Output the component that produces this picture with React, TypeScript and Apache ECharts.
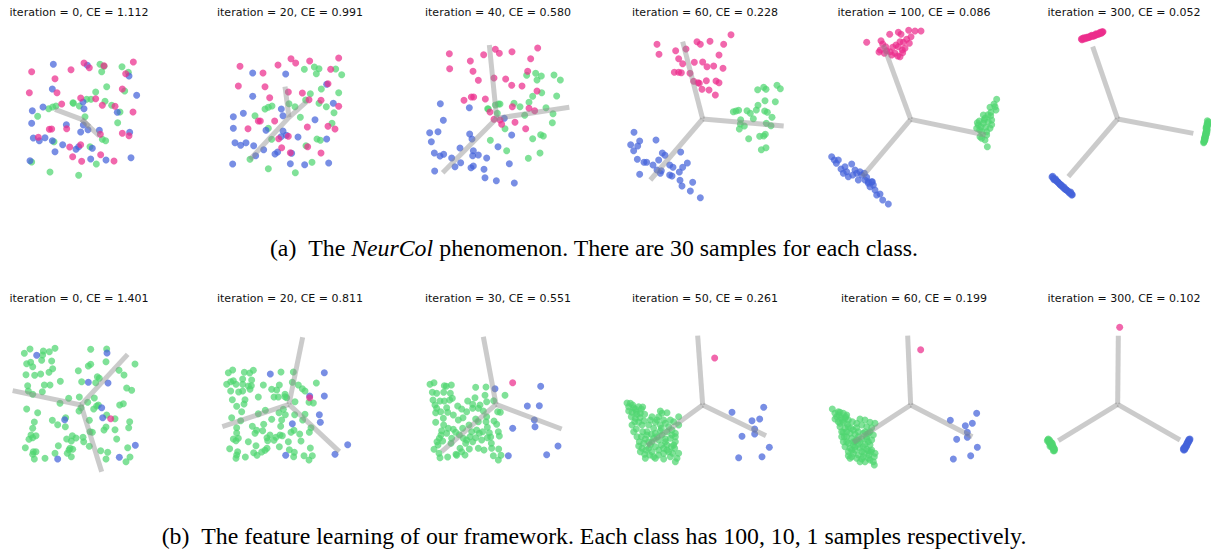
import React, { useEffect, useRef } from 'react';
import * as echarts from 'echarts';

type Pt = [number, number];

// ---- titles / captions ----
const titlesTop = [
  'iteration = 0, CE = 1.112',
  'iteration = 20, CE = 0.991',
  'iteration = 40, CE = 0.580',
  'iteration = 60, CE = 0.228',
  'iteration = 100, CE = 0.086',
  'iteration = 300, CE = 0.052',
];
const titlesBottom = [
  'iteration = 0, CE = 1.401',
  'iteration = 20, CE = 0.811',
  'iteration = 30, CE = 0.551',
  'iteration = 50, CE = 0.261',
  'iteration = 60, CE = 0.199',
  'iteration = 300, CE = 0.102',
];
const captionA = '(a)\u00a0\u00a0The {i|NeurCol} phenomenon. There are 30 samples for each class.';
const captionB = '(b)\u00a0\u00a0The feature learning of our framework. Each class has 100, 10, 1 samples respectively.';

// ---- panel 1 ----
const p1Hub: Pt = [245, 358];
const p1Arms: Pt[] = [[165, 328], [298, 408], [268, 380]];
const p1Pink: Pt[] = [[95,215],[213,209],[165,236],[252,189],[268,203],[312,197],[400,186],[377,221],[88,278],[171,278],[367,267],[242,294],[287,296],[307,316],[345,319],[399,336],[185,312],[148,388],[155,387],[200,386],[115,412],[367,400],[387,407],[301,403],[209,441],[242,434],[218,470],[245,484],[302,464],[342,483]];
const p1Blue: Pt[] = [[160,193],[262,196],[387,228],[157,267],[410,286],[249,306],[252,326],[97,332],[129,321],[352,337],[95,370],[199,374],[250,375],[264,389],[242,396],[298,391],[389,397],[100,414],[118,422],[135,413],[157,422],[188,434],[165,455],[228,448],[236,440],[277,445],[272,477],[318,480],[393,473],[90,482]];
const p1Green: Pt[] = [[300,193],[312,199],[366,200],[385,217],[305,215],[374,273],[320,260],[287,276],[273,298],[315,304],[335,316],[360,336],[219,308],[238,318],[146,326],[158,321],[168,318],[113,349],[255,350],[353,368],[162,425],[270,440],[307,418],[317,422],[289,492],[95,486],[150,516],[236,526],[260,298],[220,310]];

// ---- panel 2 ----
const p2Hub: Pt = [252, 352];
const p2Arms: Pt[] = [[240, 260], [135, 478], [305, 305]];
const p2Pink: Pt[] = [[105,199],[174,219],[219,195],[258,176],[272,189],[314,183],[401,174],[377,208],[100,258],[180,260],[250,276],[292,279],[369,251],[194,293],[312,299],[348,301],[401,319],[160,363],[166,363],[209,363],[129,386],[307,381],[369,379],[390,387],[221,416],[250,409],[230,443],[308,440],[256,458],[348,459]];
const p2Blue: Pt[] = [[143,219],[242,222],[365,253],[143,289],[385,310],[229,327],[234,347],[85,350],[115,340],[330,359],[85,385],[183,391],[234,393],[244,406],[228,410],[279,411],[365,417],[90,428],[107,436],[123,428],[146,437],[176,449],[152,467],[210,462],[218,456],[260,460],[256,491],[299,494],[371,489],[83,492]];
const p2Green: Pt[] = [[298,208],[328,201],[342,206],[334,221],[392,207],[410,224],[349,267],[316,281],[401,278],[302,300],[342,310],[364,320],[387,338],[252,311],[270,320],[180,327],[190,322],[201,318],[150,347],[286,352],[381,370],[190,385],[200,418],[303,437],[336,417],[346,421],[321,487],[190,506],[271,518],[135,478]];

// ---- panel 3 ----
const p3Hub: Pt = [260, 355];
const p3Arms: Pt[] = [[238, 135], [478, 322], [98, 518]];
const p3Pink: Pt[] = [[118,161],[119,206],[181,183],[221,164],[256,148],[268,160],[306,155],[383,144],[362,176],[189,214],[205,241],[252,234],[287,237],[305,256],[336,258],[353,214],[381,273],[162,301],[184,291],[191,291],[226,297],[240,336],[307,320],[357,325],[374,332],[252,358],[275,373],[315,367],[347,386],[270,360]];
const p3Blue: Pt[] = [[91,311],[178,323],[100,361],[59,398],[84,395],[64,425],[179,402],[186,417],[150,444],[73,459],[101,463],[90,468],[125,474],[190,452],[188,467],[205,465],[230,474],[152,488],[135,500],[183,503],[190,498],[222,508],[74,513],[225,533],[259,542],[313,549],[264,440],[298,491],[305,405],[283,355]];
const p3Green: Pt[] = [[350,226],[377,220],[381,240],[394,228],[432,225],[451,240],[395,278],[368,289],[357,307],[440,288],[312,310],[330,320],[256,315],[270,312],[235,327],[344,346],[408,323],[429,341],[427,368],[392,404],[400,408],[368,416],[285,386],[241,421],[290,452],[355,475],[390,459],[233,326],[262,340],[265,312]];

// ---- panel 4 ----
const p4Hub: Pt = [272, 357];
const p4Arms: Pt[] = [[212, 125], [515, 378], [115, 540]];
const p4Pink: Pt[] = [[135,133],[141,163],[191,152],[222,147],[255,125],[265,133],[294,124],[335,133],[357,104],[321,165],[200,176],[212,191],[247,187],[272,186],[285,200],[305,198],[333,205],[187,217],[200,217],[208,218],[234,220],[245,244],[258,248],[283,242],[312,243],[321,248],[270,268],[291,270],[310,285],[262,250]];
const p4Blue: Pt[] = [[66,397],[83,423],[56,434],[77,438],[65,452],[132,420],[151,459],[159,466],[76,478],[96,487],[104,487],[123,495],[140,480],[206,456],[226,489],[173,495],[183,502],[212,502],[202,516],[135,510],[148,512],[83,523],[173,525],[180,528],[204,541],[242,547],[210,558],[235,573],[265,593],[145,520]];
const p4Green: Pt[] = [[437,269],[455,262],[462,268],[495,256],[505,266],[459,302],[490,305],[438,316],[364,335],[372,333],[380,331],[405,332],[415,340],[433,330],[458,333],[466,337],[386,359],[424,356],[480,352],[463,370],[385,372],[397,378],[477,377],[382,387],[443,409],[460,403],[410,416],[448,449],[462,443],[455,408]];

// ---- panel 5 ----
const p5Hub: Pt = [287, 358];
const p5Arms: Pt[] = [[205, 135], [512, 405], [142, 530]];
const p5Pink: Pt[] = [[155,127],[198,122],[224,103],[250,97],[258,103],[281,91],[300,93],[318,93],[288,110],[265,127],[283,130],[243,135],[250,140],[262,150],[240,160],[225,155],[212,140],[196,150],[192,156],[215,152],[230,165],[248,168],[255,170],[263,158],[270,145],[203,132],[233,142],[255,125],[275,118],[208,160]];
const p5Blue: Pt[] = [[50,470],[58,480],[70,480],[64,490],[78,507],[95,515],[110,492],[100,530],[120,510],[125,520],[130,540],[140,525],[150,540],[160,550],[172,545],[175,555],[165,560],[160,545],[180,570],[185,585],[195,582],[203,600],[220,612],[85,520],[113,525],[135,515],[148,520],[170,545],[90,500],[155,532]];
const p5Green: Pt[] = [[545,298],[537,312],[525,322],[543,330],[519,344],[527,347],[510,355],[530,360],[493,363],[505,370],[490,375],[485,385],[498,380],[512,382],[525,385],[500,395],[495,410],[515,405],[510,420],[517,440],[528,337],[520,365],[505,345],[515,395],[487,368],[530,374],[500,415],[540,320],[494,390],[508,360]];

// ---- panel 6 ----
const p6Hub: Pt = [293, 357];
const p6Arms: Pt[] = [[218, 140], [520, 400], [145, 530]];
const p6Pink: Pt[] = [[184,117],[188,115],[186,119],[192,113],[195,116],[199,112],[203,113],[206,110],[210,111],[213,108],[217,109],[220,107],[223,105],[226,106],[229,104],[232,102],[235,103],[238,101],[241,99],[244,100],[247,97],[249,95],[190,117],[200,114],[215,106],[228,101],[240,97],[208,112],[222,108],[246,95]];
const p6Blue: Pt[] = [[96,531],[100,535],[104,538],[108,541],[112,545],[116,549],[119,552],[122,556],[126,559],[130,563],[134,566],[138,569],[142,572],[146,575],[150,578],[154,581],[157,584],[98,529],[106,536],[114,546],[124,555],[132,561],[140,570],[148,579],[155,585],[102,539],[110,543],[120,553],[136,568],[152,576]];
const p6Green: Pt[] = [[562,362],[564,368],[561,372],[563,377],[560,382],[562,388],[559,392],[558,397],[560,402],[556,406],[557,411],[554,415],[555,420],[552,424],[551,428],[565,365],[558,385],[557,400],[553,418],[561,395],[556,409],[563,372],[559,380],[554,412],[552,426],[560,390],[557,404],[555,416],[562,376],[553,422]];

// ---- panel 7 ----
const p7Hub: Pt = [243, 360];
const p7Arms: Pt[] = [[38, 317], [383, 208], [305, 560]];
const p7Pink: Pt[] = [[332, 401]];
const p7Blue: Pt[] = [[110,211],[321,204],[265,292],[324,294],[305,368],[308,398],[194,404],[406,481],[173,522],[358,517]];
const p7Green: Pt[] = [[73,205],[90,192],[130,198],[148,200],[165,190],[80,236],[92,232],[98,245],[125,226],[155,228],[78,269],[104,271],[122,267],[147,262],[158,251],[272,193],[320,192],[318,230],[265,243],[272,238],[235,257],[405,237],[357,256],[372,270],[83,302],[133,300],[127,320],[98,328],[181,289],[245,290],[292,275],[298,280],[287,293],[380,309],[395,316],[206,340],[180,355],[263,352],[283,339],[290,363],[359,360],[370,356],[80,372],[113,383],[237,378],[320,390],[345,401],[157,406],[173,419],[197,398],[196,425],[103,411],[268,406],[389,410],[386,428],[98,430],[93,450],[87,463],[108,452],[98,458],[277,442],[312,435],[318,426],[345,434],[217,452],[228,459],[214,468],[249,457],[251,470],[350,462],[76,488],[175,482],[218,493],[207,495],[268,484],[383,488],[100,500],[98,508],[108,500],[103,522],[135,520],[165,505],[202,505],[214,515],[302,497],[323,502],[318,522],[390,516],[378,530],[243,368],[238,336],[281,372],[295,360],[210,490],[128,210],[150,300],[270,440],[200,462],[85,318]];

// ---- panel 8 ----
const p8Hub: Pt = [252, 358];
const p8Arms: Pt[] = [[293, 157], [52, 425], [403, 500]];
const p8Pink: Pt[] = [[314, 338]];
const p8Blue: Pt[] = [[196,267],[358,263],[358,333],[314,333],[343,389],[346,412],[262,416],[428,479],[242,511],[390,508]];
const p8Green: Pt[] = [[70,263],[83,255],[118,262],[134,264],[145,256],[228,261],[265,261],[77,290],[85,287],[93,298],[113,282],[140,285],[139,302],[262,292],[334,294],[77,318],[101,321],[113,318],[135,313],[223,300],[200,313],[292,311],[300,318],[160,336],[82,344],[95,364],[120,344],[117,357],[207,336],[220,336],[240,328],[245,338],[312,352],[325,354],[181,376],[160,386],[80,398],[107,407],[222,383],[241,389],[235,373],[269,389],[300,388],[293,405],[200,403],[142,424],[155,436],[173,437],[176,418],[95,428],[95,444],[85,462],[100,460],[93,467],[227,424],[258,442],[267,436],[284,447],[313,442],[318,428],[186,458],[188,467],[207,466],[213,457],[225,450],[232,452],[288,468],[153,482],[74,491],[98,500],[95,510],[93,520],[121,516],[146,503],[156,511],[170,501],[180,496],[186,490],[223,485],[253,494],[266,515],[268,502],[297,512],[312,525],[322,512],[316,489],[113,298],[130,303],[240,335],[65,298],[195,450],[110,380],[270,350],[230,405],[150,445],[280,300],[130,470],[215,315],[175,300],[250,470]];

// ---- panel 9 ----
const p9Hub: Pt = [258, 358];
const p9Arms: Pt[] = [[220, 155], [455, 432], [95, 500]];
const p9Pink: Pt[] = [[308, 293]];
const p9Blue: Pt[] = [[255,311],[392,304],[352,363],[388,362],[373,405],[375,425],[308,430],[444,483],[410,509],[295,512]];
const p9Green: Pt[] = [[60,298],[72,293],[67,322],[80,325],[103,302],[109,304],[124,300],[101,322],[121,325],[69,345],[90,348],[103,348],[119,345],[127,340],[80,370],[77,383],[92,380],[110,368],[113,382],[143,363],[173,348],[188,358],[195,338],[197,307],[228,306],[225,331],[251,347],[285,331],[210,360],[188,370],[205,370],[220,378],[263,380],[271,382],[159,398],[145,405],[177,420],[197,402],[205,410],[228,410],[232,427],[252,408],[77,412],[101,420],[95,437],[93,450],[88,460],[81,470],[98,468],[84,480],[72,493],[87,505],[90,518],[113,516],[138,508],[130,433],[137,442],[148,449],[158,430],[170,465],[167,475],[188,470],[178,492],[165,510],[155,500],[197,458],[200,435],[218,440],[238,443],[242,456],[265,440],[268,453],[244,475],[266,492],[222,495],[250,512],[273,511],[265,525],[232,458],[123,475],[150,490],[140,511],[110,445],[180,455],[208,445],[260,418],[230,395],[170,380],[155,372],[130,390],[100,400],[245,490],[205,490],[185,440],[215,465],[125,460],[160,460],[75,360],[115,430],[230,350]];

// ---- panel 10 ----
const p10Hub: Pt = [272, 360];
const p10Arms: Pt[] = [[257, 152], [462, 452], [105, 482]];
const p10Pink: Pt[] = [[308, 219]];
const p10Blue: Pt[] = [[360,382],[455,367],[420,407],[443,402],[428,432],[428,447],[390,454],[472,487],[450,515],[380,518]];
const p10Green: Pt[] = [[45,354],[55,355],[65,368],[80,365],[92,366],[50,378],[60,382],[72,380],[85,385],[98,388],[58,395],[70,400],[84,398],[96,407],[68,410],[80,412],[115,405],[145,378],[165,383],[140,395],[155,405],[160,415],[175,405],[185,410],[200,395],[73,432],[92,440],[110,420],[125,430],[130,445],[148,430],[165,440],[180,435],[190,445],[150,450],[118,448],[88,455],[100,462],[110,470],[125,460],[140,465],[160,462],[175,460],[190,470],[190,455],[80,483],[90,490],[102,495],[115,480],[130,485],[148,480],[165,480],[178,485],[188,490],[85,500],[98,508],[113,510],[125,515],[140,510],[155,505],[170,500],[182,505],[195,520],[190,530],[130,520],[120,500],[100,520],[155,522],[175,515],[95,475],[120,470],[105,440],[60,420],[50,365],[75,388],[90,420],[135,405],[170,425],[200,420],[82,470],[140,495],[165,495],[180,450],[145,438],[160,470],[110,490],[75,455],[65,440],[200,505],[150,385],[130,412],[120,395],[185,480],[105,450],[135,455],[155,490],[70,372],[88,372],[62,360],[145,420]];

// ---- panel 11 ----
const p11Hub: Pt = [287, 360];
const p11Arms: Pt[] = [[278, 152], [472, 455], [115, 472]];
const p11Pink: Pt[] = [[317, 194]];
const p11Blue: Pt[] = [[406,406],[485,385],[472,415],[451,422],[457,442],[457,457],[425,463],[487,487],[467,512],[415,522]];
const p11Green: Pt[] = [[52,372],[60,385],[75,382],[85,385],[95,390],[65,395],[78,398],[90,400],[100,405],[70,410],[85,412],[97,418],[75,425],[90,430],[80,440],[135,402],[150,405],[165,412],[180,415],[125,415],[140,420],[155,425],[170,428],[115,435],[130,440],[145,445],[160,445],[175,450],[95,455],[110,460],[125,465],[140,462],[155,462],[170,465],[85,470],[100,475],[115,480],[130,478],[150,478],[165,480],[90,485],[105,490],[120,495],[135,490],[155,493],[170,495],[100,500],[115,505],[130,510],[148,505],[162,510],[178,515],[110,515],[125,520],[140,522],[160,520],[175,530],[178,540],[150,530],[85,442],[95,440],[120,448],[165,440],[100,425],[112,410],[60,402],[88,455],[105,445],[130,455],[145,485],[160,498],[120,470],[140,500],[75,415],[95,470],[110,495],[135,530],[168,500],[180,505],[108,430],[150,440],[125,428],[80,455],[72,390],[92,395],[160,470],[145,515],[115,470],[135,470],[105,520],[165,525],[70,380],[82,405],[155,455],[120,485],[100,512]];

// ---- panel 12 ----
const p12Hub: Pt = [293, 358];
const p12Arms: Pt[] = [[295, 152], [115, 467], [480, 465]];
const p12Pink: Pt[] = [[299, 127]];
const p12Blue: Pt[] = [[507,463],[505,467],[503,471],[501,475],[499,479],[497,483],[495,487],[493,491],[491,495],[509,466],[504,474],[500,483],[496,490],[490,492],[506,470],[502,478],[498,486],[494,494],[510,462],[492,488]];
const p12Green: Pt[] = [[84,464],[86,467],[88,470],[90,474],[92,477],[94,480],[96,484],[98,487],[100,490],[102,494],[103,497],[85,462],[89,466],[93,472],[97,478],[99,483],[101,488],[87,473],[91,479],[95,487],[82,467],[90,484],[104,492],[96,474],[100,497]];

const panelData = [
  { hub: p1Hub, arms: p1Arms, pink: p1Pink, blue: p1Blue, green: p1Green },
  { hub: p2Hub, arms: p2Arms, pink: p2Pink, blue: p2Blue, green: p2Green },
  { hub: p3Hub, arms: p3Arms, pink: p3Pink, blue: p3Blue, green: p3Green },
  { hub: p4Hub, arms: p4Arms, pink: p4Pink, blue: p4Blue, green: p4Green },
  { hub: p5Hub, arms: p5Arms, pink: p5Pink, blue: p5Blue, green: p5Green },
  { hub: p6Hub, arms: p6Arms, pink: p6Pink, blue: p6Blue, green: p6Green },
  { hub: p7Hub, arms: p7Arms, pink: p7Pink, blue: p7Blue, green: p7Green },
  { hub: p8Hub, arms: p8Arms, pink: p8Pink, blue: p8Blue, green: p8Green },
  { hub: p9Hub, arms: p9Arms, pink: p9Pink, blue: p9Blue, green: p9Green },
  { hub: p10Hub, arms: p10Arms, pink: p10Pink, blue: p10Blue, green: p10Green },
  { hub: p11Hub, arms: p11Arms, pink: p11Pink, blue: p11Blue, green: p11Green },
  { hub: p12Hub, arms: p12Arms, pink: p12Pink, blue: p12Blue, green: p12Green },
];

// ---- layout (positions, not data) ----
const colX = [0, 205, 410, 612, 815, 1020];
const colW = [200, 200, 200, 200, 200, 191];
const rowY = [0, 285];
const PANEL_H = 215;
const titleCX = [79, 290, 498, 705, 914, 1124];
const titleY = [12, 298];

const PINK = '#ec2d8c';
const GREEN = '#4fd670';
const BLUE = '#4462da';

export default function App() {
  const ref = useRef<HTMLDivElement>(null);
  useEffect(() => {
    if (!ref.current) return;
    const chart = echarts.init(ref.current, null, { renderer: 'svg' });
    const grid: any[] = [];
    const xAxis: any[] = [];
    const yAxis: any[] = [];
    const series: any[] = [];
    const graphic: any[] = [];

    panelData.forEach((p, i) => {
      const r = Math.floor(i / 6);
      const c = i % 6;
      const w = colW[c];
      grid.push({ left: colX[c], top: rowY[r], width: w, height: PANEL_H, containLabel: false });
      xAxis.push({ type: 'value', gridIndex: i, min: 0, max: w * 3, show: false });
      yAxis.push({ type: 'value', gridIndex: i, min: 0, max: PANEL_H * 3, inverse: true, show: false });
      const scat = (data: Pt[], color: string, z: number) => ({
        type: 'scatter', xAxisIndex: i, yAxisIndex: i, data, symbolSize: 7, silent: true, z,
        itemStyle: { color, opacity: 0.72 },
      });
      series.push(scat(p.green, GREEN, 2));
      series.push(scat(p.blue, BLUE, 2));
      series.push(scat(p.pink, PINK, 2));
      series.push({
        type: 'lines', coordinateSystem: 'cartesian2d', xAxisIndex: i, yAxisIndex: i, silent: true, z: 3,
        data: p.arms.map((e) => ({ coords: [p.hub, e] })),
        lineStyle: { color: '#8c8c8c', width: 5, opacity: 0.45, cap: 'butt' },
      });
      const title = r === 0 ? titlesTop[c] : titlesBottom[c];
      graphic.push({
        type: 'text', x: titleCX[c], y: titleY[r], silent: true,
        style: {
          text: title, fill: '#111', fontSize: 11, fontFamily: 'DejaVu Sans',
          align: 'center', verticalAlign: 'middle', textAlign: 'center', textVerticalAlign: 'middle',
        },
      });
    });

    const capStyle = (text: string) => ({
      text, fill: '#000', fontSize: 23.8, fontFamily: 'Liberation Serif',
      align: 'center', verticalAlign: 'middle', textAlign: 'center', textVerticalAlign: 'middle',
      rich: { i: { fontStyle: 'italic', fontSize: 23.8, fontFamily: 'Liberation Serif', fill: '#000' } },
    });
    graphic.push({ type: 'text', x: 594, y: 248, silent: true, style: capStyle(captionA) });
    graphic.push({ type: 'text', x: 594, y: 536, silent: true, style: capStyle(captionB) });

    chart.setOption({ animation: false, backgroundColor: '#fff', grid, xAxis, yAxis, series, graphic });
    return () => chart.dispose();
  }, []);
  return <div ref={ref} style={{ position: 'absolute', left: 0, top: 0, width: 1211, height: 551 }} />;
}
